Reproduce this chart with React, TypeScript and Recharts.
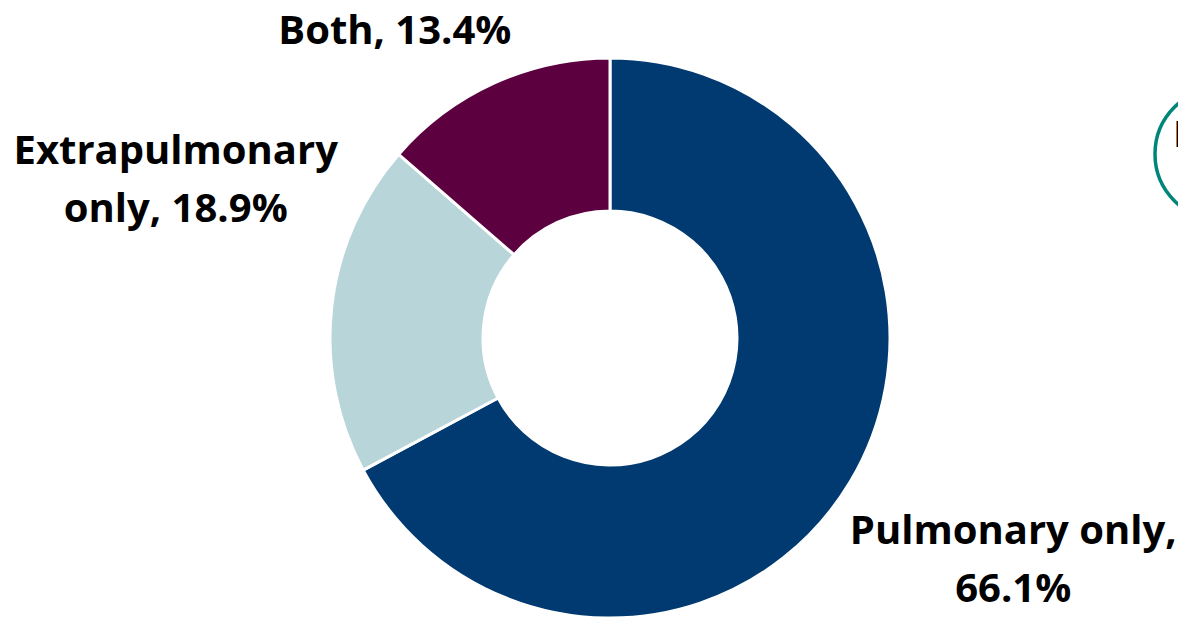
import React from "react";
import { PieChart, Pie, Cell, Customized } from "recharts";

const categories = ["Pulmonary only", "Extrapulmonary only", "Both"];
const percents = [66.1, 18.9, 13.4];
const labelLines = [
  ["Pulmonary only,", "66.1%"],
  ["Extrapulmonary", "only, 18.9%"],
  ["Both, 13.4%"],
];

const colors = ["#003A70", "#B8D5DA", "#5C0040"];
// label placement (style), relative to the slice's outer mid-point
const labelShift = [
  { dx: 163, dy: 62 },
  { dx: -156, dy: -143 },
  { dx: -99, dy: -39 },
];

const data = categories.map((name, i) => ({ name, value: percents[i] }));

const RAD = Math.PI / 180;

const renderLabel = (props: any) => {
  const { cx, cy, midAngle, outerRadius, index } = props;
  const ax = cx + outerRadius * Math.cos(-midAngle * RAD);
  const ay = cy + outerRadius * Math.sin(-midAngle * RAD);
  const x = ax + labelShift[index].dx;
  const y = ay + labelShift[index].dy;
  const lines = labelLines[index];
  return (
    <text
      key={`lbl-${index}`}
      x={x}
      y={y}
      textAnchor="middle"
      fill="#000"
      style={{ fontFamily: "'Open Sans', sans-serif", fontWeight: 700, fontSize: 40 }}
    >
      {lines.map((l, k) => (
        <tspan key={k} x={x} dy={k === 0 ? 0 : 58}>
          {l}
        </tspan>
      ))}
    </text>
  );
};

const Callout = () => (
  <g>
    <circle cx={1221} cy={154} r={66} fill="none" stroke="#00857A" strokeWidth={3.5} />
    <text
      x={1173}
      y={147}
      fill="#000"
      style={{ fontFamily: "'Open Sans', sans-serif", fontSize: 36 }}
    >
      E
    </text>
  </g>
);

export default function App() {
  return (
    <div style={{ position: "absolute", left: 0, top: 0, width: 1178, height: 618, background: "#fff" }}>
      <PieChart width={1178} height={618} margin={{ top: 0, right: 0, bottom: 0, left: 0 }}>
        <Pie
          data={data}
          dataKey="value"
          nameKey="name"
          cx={610}
          cy={338}
          innerRadius={127}
          outerRadius={280}
          startAngle={90}
          endAngle={-270}
          stroke="#fff"
          strokeWidth={3}
          label={renderLabel}
          labelLine={false}
          isAnimationActive={false}
        >
          {data.map((d, i) => (
            <Cell key={d.name} fill={colors[i]} />
          ))}
        </Pie>
        <Customized component={Callout} />
      </PieChart>
    </div>
  );
}
